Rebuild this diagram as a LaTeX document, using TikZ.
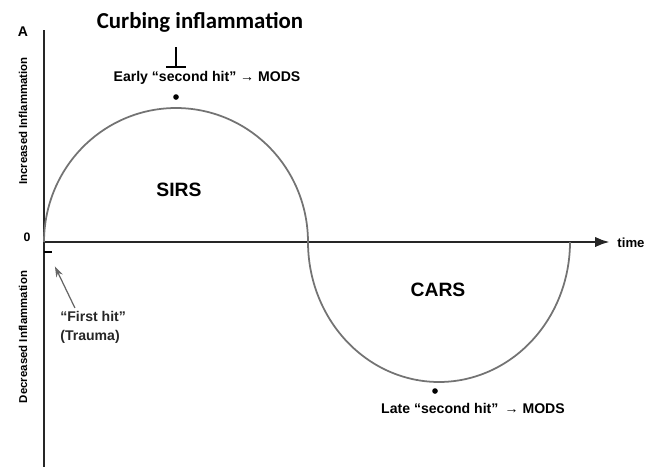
\documentclass[tikz,border=0pt]{standalone}
\usepackage{fontspec}
\setmainfont{Liberation Sans}
\newfontfamily\curbfont{Carlito}
\usetikzlibrary{arrows.meta,positioning}

\begin{document}
\begin{tikzpicture}[
  x=0.02cm, y=-0.02cm,
  lbl/.style={font=\fontsize{8}{10.8}\selectfont\bfseries, inner sep=0pt},
  side/.style={font=\fontsize{6.5}{7}\selectfont\bfseries, rotate=90, inner sep=0pt},
  phase/.style={font=\fontsize{11}{13}\selectfont\bfseries, inner sep=0pt},
  hitdot/.style={circle, fill=black, inner sep=0pt, minimum size=3.2pt},
  axis/.style={line width=1.6pt, black!85},
  curve/.style={line width=1pt, black!55},
  >=Stealth
]
  \useasboundingbox (0,0) rectangle (652,467);

  % Axes
  \coordinate (origin) at (44,242);
  \coordinate (ytop)   at (44,30);
  \coordinate (ybot)   at (44,467);
  \coordinate (xend)   at (610,242);
  \draw[axis] (ytop) -- (ybot);
  \draw[axis, -{Latex[length=8.5pt,width=6pt]}] (origin) -- (xend);
  \node[font=\fontsize{7.5}{8}\selectfont\bfseries, inner sep=0pt] (time) at (631,243) {time};
  \node[font=\fontsize{8}{9}\selectfont\bfseries, inner sep=0pt] (panel) at (23,32) {A};
  \node[font=\fontsize{7}{8}\selectfont\bfseries, inner sep=0pt] (zero) at (27,237) {0};
  \node[side] (incr) at (23,121) {Increased Inflammation};
  \node[side] (decr) at (23,337) {Decreased Inflammation};

  % Response curve
  \draw[curve] plot[domain=180:0, samples=70, smooth] ({176+132*cos(\x)},{242-134*sin(\x)})
            -- plot[domain=180:360, samples=70, smooth] ({439+131*cos(\x)},{242-140*sin(\x)});
  \node[phase] (sirs) at (179,190) {SIRS};
  \node[phase] (cars) at (438,290) {CARS};

  % Second hits
  \node[hitdot] (peak)   at (176,97) {};
  \node[hitdot] (trough) at (435,391) {};
  \node[lbl] (early) at (207,78) {Early “second hit” → MODS};
  \node[lbl] (late)  at (473,408) {Late “second hit”\, → MODS};

  % Curbing inflammation
  \node[font=\curbfont\fontsize{13}{15}\selectfont\bfseries, inner sep=0pt] (curb) at (200,22) {Curbing inflammation};
  \coordinate (inhib) at (176,47);
  \coordinate (block) at (176,68);
  \draw[line width=1pt, -{Bar[width=11pt,line width=1pt]}] (inhib) -- (block);

  % First hit
  \node[fill=black, inner sep=0pt, minimum width=4pt, minimum height=1.6pt] (firsthit) at (48,252) {};
  \node[lbl, align=left, anchor=west, text=black!85] (first) at (60,327) {“First hit”\\(Trauma)};
  \draw[black!60, line width=0.7pt, -{Stealth[length=6pt,width=4pt]}, shorten >=8pt]
       ([xshift=8.5pt,yshift=1.5pt]first.north west) -- (firsthit);
\end{tikzpicture}
\end{document}
